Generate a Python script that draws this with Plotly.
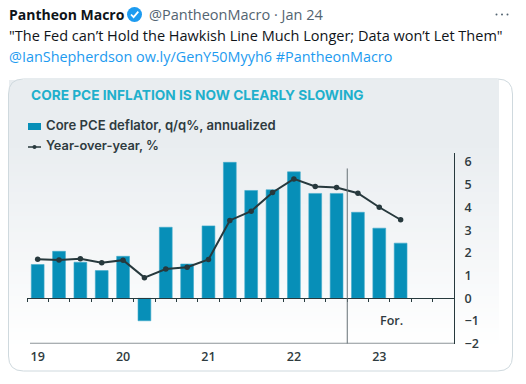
import plotly.graph_objects as go

W, H = 526, 384
quarters = [f"{y}Q{q}" for y in range(2019, 2024) for q in range(1, 5)]
bar_values = [1.49, 2.07, 1.59, 1.22, 1.85, -0.99, 3.13, 1.51, 3.19, 5.99, 4.75, 4.78,
              5.57, 4.62, 4.62, 3.79, 3.09, 2.43]
line_values = [1.72, 1.69, 1.74, 1.57, 1.68, 0.91, 1.29, 1.37, 1.71, 3.43, 3.84, 4.66,
               5.26, 4.93, 4.88, 4.63, 4.01, 3.46]
year_labels = ["19", "20", "21", "22", "23"]
y_ticks = [-2, -1, 0, 1, 2, 3, 4, 5, 6]

BAR = "#078fb8"
LINE = "#27393d"
TXT = "#2f3b40"
TICK_FONT = dict(size=12.5, color=TXT, family="Open Sans", weight=600)


def px(x):
    return x / W


def py(y):
    return 1 - y / H


def text(x, y, s, size, color, family="Open Sans", weight=400, anchor="left"):
    return dict(xref="paper", yref="paper", x=px(x), y=py(y), text=s, showarrow=False,
                xanchor=anchor, yanchor="middle", align="left", borderpad=0,
                font=dict(size=size, color=color, family=family, weight=weight))


x_pos = list(range(len(quarters)))
fig = go.Figure()
fig.add_trace(go.Bar(x=x_pos[:len(bar_values)], y=bar_values, width=0.6, name="Core PCE deflator, q/q%, annualized",
                     marker=dict(color=BAR, line=dict(color="#3fa9c9", width=0.6))))
fig.add_trace(go.Scatter(x=x_pos[:len(line_values)], y=line_values, mode="lines+markers", name="Year-over-year, %",
                         line=dict(color=LINE, width=2), marker=dict(color=LINE, size=5.5), xaxis="x", yaxis="y"))
# zero-line axis with its ticks
fig.add_trace(go.Scatter(x=[0], y=[None], xaxis="x2", yaxis="y", showlegend=False, hoverinfo="skip"))

shapes = []
# card background gradient
x0, x1, top, bot = 9, 499, 80, 370
g0, g1 = (233, 237, 240), (255, 255, 255)
start, stop = 140, 345
step = 4
y = top
while y < bot:
    t = min(1, max(0, (y - start) / (stop - start)))
    c = tuple(round(a + (b - a) * t) for a, b in zip(g0, g1))
    shapes.append(dict(type="rect", xref="paper", yref="paper", layer="below", x0=px(x0), x1=px(x1),
                       y0=py(y), y1=py(min(y + step, bot)), line_width=0, fillcolor=f"rgb{c}"))
    y += step
# rounded card border
l, r, t_, b_ = 8.5, 512.5, 79, 371
rad = 15


def P(x, y):
    return f"{px(x)},{py(y)}"


shapes.append(dict(type="path", xref="paper", yref="paper", layer="above",
                   path=f"M{P(l + rad, t_)} L{P(r - rad, t_)} Q{P(r, t_)} {P(r, t_ + rad)} "
                        f"L{P(r, b_ - rad)} Q{P(r, b_)} {P(r - rad, b_)} L{P(l + rad, b_)} "
                        f"Q{P(l, b_)} {P(l, b_ - rad)} L{P(l, t_ + rad)} Q{P(l, t_)} {P(l + rad, t_)} Z",
                   line=dict(color="#cfd9de", width=1)))
# bottom axis line
shapes.append(dict(type="line", xref="x", yref="y", x0=-0.36, x1=19.5, y0=-2, y1=-2,
                   line=dict(color="#8d9598", width=2)))
# forecast divider
shapes.append(dict(type="line", xref="x", yref="y", x0=14.5, x1=14.5, y0=-2, y1=5.72,
                   line=dict(color="#667075", width=1)))
# legend keys
shapes.append(dict(type="rect", xref="paper", yref="paper", x0=px(28), x1=px(41), y0=py(123), y1=py(130),
                   fillcolor=BAR, line_width=0))
shapes.append(dict(type="line", xref="paper", yref="paper", x0=px(28), x1=px(41), y0=py(147), y1=py(147),
                   line=dict(color=LINE, width=1.5)))
shapes.append(dict(type="circle", xref="paper", yref="paper", x0=px(32.5), x1=px(36.5), y0=py(145), y1=py(149),
                   fillcolor=LINE, line_width=0))
# verified badge
shapes.append(dict(type="circle", xref="paper", yref="paper", x0=px(127), x1=px(142), y0=py(7), y1=py(22),
                   fillcolor="#1d9bf0", line_width=0))
shapes.append(dict(type="path", xref="paper", yref="paper",
                   path=f"M{P(131, 14.5)} L{P(133.6, 17.2)} L{P(138.3, 11.6)}",
                   line=dict(color="white", width=1.8)))
# more menu dots
for cx in (496.5, 502, 507.5):
    shapes.append(dict(type="circle", xref="paper", yref="paper", x0=px(cx - 1), x1=px(cx + 1), y0=py(13.5), y1=py(15.5),
                       fillcolor="#536471", line_width=0))

annotations = [
    text(8, 14, "Pantheon Macro", 14, "#0f1419", weight=700),
    text(148, 14, "@PantheonMacro · Jan 24", 14.5, "#536471"),
    text(8, 35, "\"The Fed can’t Hold the Hawkish Line Much Longer; Data won’t Let Them\"", 14.5, "#0f1419"),
    text(8, 56, "@IanShepherdson ow.ly/GenY50Myyh6 #PantheonMacro", 14.4, "#1d9bf0"),
    text(30, 95, "CORE PCE INFLATION IS NOW CLEARLY SLOWING", 13.7, "#1fb0cc", family="Inter", weight=700),
    text(45, 125, "Core PCE deflator, q/q%, annualized", 13.1, TXT, family="Inter", weight=600),
    text(45, 146, "Year-over-year, %", 12.8, TXT, family="Inter", weight=600),
    dict(xref="x", yref="y", x=16.55, y=-0.96, text="For.", showarrow=False,
         font=dict(size=12.5, color=TXT, family="Open Sans", weight=600)),
]

plot_l, plot_r, plot_t, plot_b = 27, 454, 153.3, 343.7
fig.update_layout(
    width=W, height=H, autosize=False, margin=dict(l=0, r=0, t=0, b=0, pad=0, autoexpand=False),
    paper_bgcolor="white", plot_bgcolor="rgba(0,0,0,0)", showlegend=False, barmode="overlay",
    shapes=shapes, annotations=annotations,
    font=dict(family="Open Sans", color=TXT, size=12),
    xaxis=dict(domain=[px(plot_l), px(plot_r)], range=[-0.5, 19.5], anchor="y", automargin=False,
               tickmode="array", tickvals=x_pos[::4], ticktext=year_labels,
               ticks="outside", ticklen=1, tickcolor="rgba(0,0,0,0)", showgrid=False, zeroline=False, showline=False,
               tickfont=TICK_FONT),
    xaxis2=dict(domain=[px(plot_l), px(plot_r)], range=[-0.5, 19.5], overlaying="x", anchor="free",
                position=py(298.3), side="bottom", automargin=False,
                tickmode="array", tickvals=[i - 0.5 for i in range(21)], ticks="outside", ticklen=3, tickwidth=1,
                tickcolor="#27393d", showticklabels=False, showgrid=False, zeroline=False,
                showline=True, linecolor="#27393d", linewidth=1),
    yaxis=dict(domain=[py(plot_b), py(plot_t)], range=[-2, -2 + (plot_b - plot_t) / 22.7], side="right", anchor="x",
               automargin=False, tickmode="array", tickvals=y_ticks, showgrid=False, zeroline=False,
               showline=True, linecolor="#27393d", linewidth=1,
               ticks="outside", ticklen=7, tickcolor="rgba(0,0,0,0)",
               tickfont=TICK_FONT),
)
fig.write_html("out.html", config=dict(displayModeBar=False),
               post_script="document.body.style.margin='0';document.body.style.overflow='hidden';")
